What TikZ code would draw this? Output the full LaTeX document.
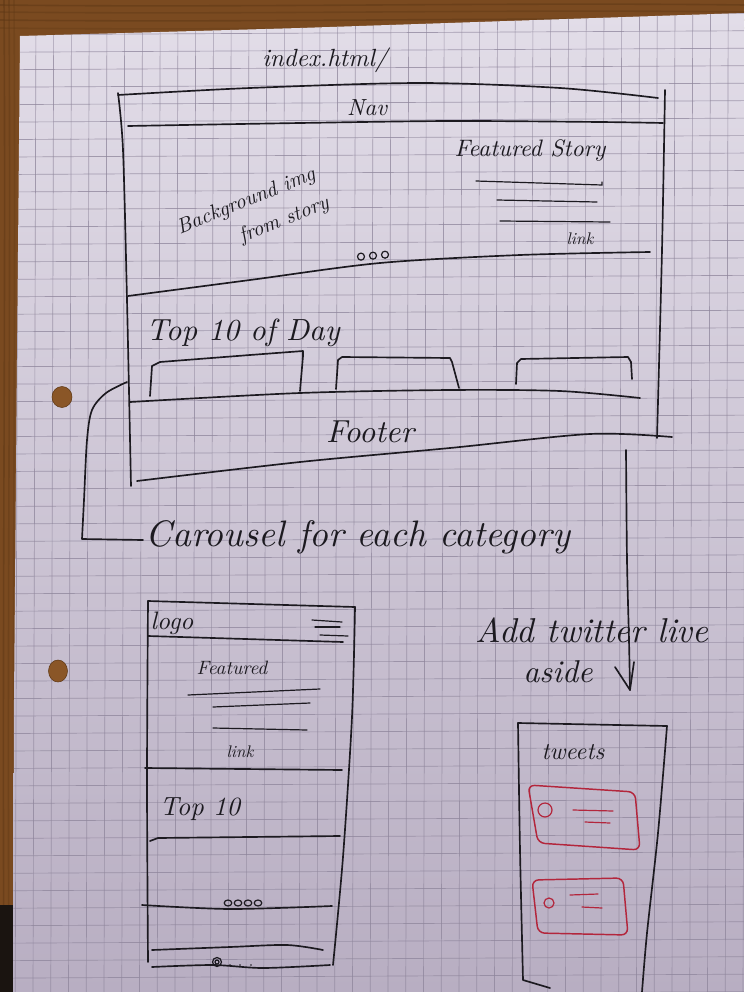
\documentclass[tikz,border=0pt]{standalone}
\usepackage{graphicx}
\definecolor{wood}{HTML}{7A4A20}
\definecolor{woodgrain}{HTML}{5E3815}
\definecolor{woodlight}{HTML}{8A5627}
\definecolor{shadowc}{HTML}{1A1410}
\definecolor{papertop}{HTML}{E2DDE8}
\definecolor{paperbot}{HTML}{B8AEC2}
\definecolor{gridc}{HTML}{8E859B}
\definecolor{inkc}{HTML}{1C1A20}
\definecolor{redc}{HTML}{B3263C}
% handwritten label scaled to a given width (in pt)
\newcommand{\hand}[2]{\resizebox{#1pt}{!}{\itshape #2}}
\begin{document}
\begin{tikzpicture}[x=0.75pt,y=-0.75pt,
  ink/.style={draw=inkc, line width=1.25pt, line cap=round, line join=round},
  thinink/.style={draw=inkc, line width=0.9pt, line cap=round},
  redink/.style={draw=redc, line width=1.1pt, line cap=round, line join=round, rounded corners=5pt},
  redthin/.style={draw=redc, line width=0.9pt, line cap=round},
  hw/.style={inner sep=0pt, text=inkc},
  gridline/.style={draw=gridc, line width=0.5pt, opacity=0.75},
  hole/.style={fill=woodlight, draw=woodgrain, line width=0.4pt}]

\useasboundingbox (0,0) rectangle (744,992);

% table top
\fill[wood] (0,0) rectangle (744,992);
\foreach \y/\o in {5/0.5,12/0.4,20/0.5,28/0.3}
  \draw[woodgrain, line width=1.2pt, opacity=\o] (0,\y) .. controls (250,\y+3) and (500,\y-3) .. (744,\y);
\foreach \x/\o in {4/0.5,9/0.4,14/0.3}
  \draw[woodgrain, line width=1.2pt, opacity=\o] (\x,0) .. controls (\x+2,300) and (\x-2,600) .. (\x,992);
\fill[shadowc] (0,905) rectangle (14,992);

% the sheet of paper
\path[shade, top color=papertop, bottom color=paperbot]
  (20,36) -- (300,28) -- (744,13) -- (744,992) -- (13,992) -- (14,700) -- (17,360) -- cycle;
\begin{scope}
  \clip (20,36) -- (300,28) -- (744,13) -- (744,992) -- (13,992) -- (14,700) -- (17,360) -- cycle;
  \foreach \k in {-1,...,40} \draw[gridline] (36+17.75*\k,0) -- (36+17.75*\k-3,992);
  \foreach \k in {0,...,56} \draw[gridline] (0,17.3+17.47*\k) -- (744,17.3+17.47*\k-4);
\end{scope}

% punched holes
\path[hole] (62,397) ellipse (10 and 10.5);
\path[hole] (58,671) ellipse (9.5 and 11);

% ---------- desktop layout ----------
\node[hw] (title) at (325,60) {\hand{94}{index.html/}};
\draw[ink] plot[smooth] coordinates {(118,95) (250,88) (420,83) (560,88) (658,98)};
\draw[ink] plot[smooth] coordinates {(118,93) (123,150) (127,300) (131,486)};
\draw[ink] plot[smooth] coordinates {(665,90) (662,250) (657,438)};
\node[hw] (nav) at (367,108) {\hand{30}{Nav}};
\draw[ink] plot[smooth] coordinates {(128,126) (300,123) (450,121) (600,122) (663,123)};

% hero
\node[hw] (feat) at (530,151) {\hand{113}{Featured Story}};
\draw[thinink] (476,181) -- (602,185) -- (602,182);
\draw[thinink] (497,200) -- (597,202);
\draw[thinink] (500,221) -- (610,222);
\node[hw] (link) at (580,239) {\hand{20}{link}};
\node[hw, rotate=22] (bg) at (253,216)
  {\hand{112}{\begin{tabular}{@{}l@{}}Background img\\[3pt]\hspace{2.6em}from story\end{tabular}}};
\foreach \x in {361,373,385} \draw[thinink] (\x,256.5-0.08*\x+29) circle (3.5);
\draw[ink] plot[smooth] coordinates {(128,296) (250,280) (380,263) (520,255) (650,252)};

% top 10 row
\node[hw] (top) at (243,333) {\hand{145}{Top 10 of Day}};
\draw[ink] (150,396) -- (152,366) -- (160,362) -- (250,355) -- (303,351) -- (303,356) -- (300,391);
\draw[ink] (336,389) -- (338,360) -- (342,357) -- (450,358) -- (452,362) -- (459,388);
\draw[ink] (516,384) -- (517,363) -- (521,359) -- (628,357) -- (631,362) -- (632,379);
\draw[ink] plot[smooth] coordinates {(130,402) (300,393) (450,390) (560,391) (640,398)};

% footer
\node[hw] (foot) at (370,432) {\hand{66}{Footer}};
\draw[ink] plot[smooth] coordinates {(137,481) (300,462) (450,448) (590,434) (672,437)};

% note on the carousel
\coordinate (carStart) at (127,382);
\coordinate (carEnd) at (143,540);
\draw[ink] plot[smooth] coordinates {(carStart) (106,393) (92,410) (87,440) (84,500) (82,539)} -- (carEnd);
\node[hw] (car) at (358,537) {\hand{318}{Carousel for each category}};

% note on the twitter aside
\coordinate (twStart) at (626,450);
\coordinate (twEnd) at (630,690);
\draw[ink] plot[smooth] coordinates {(twStart) (627,560) (629,640) (twEnd)};
\draw[ink] (615,667) -- (twEnd) -- (634,662);
\node[hw] (addtw) at (592,630) {\hand{175}{Add twitter live}};
\node[hw] (aside) at (558,672) {\hand{52}{aside}};

% ---------- mobile layout ----------
\draw[ink] (148,601) -- (355,607);
\draw[ink] plot[smooth] coordinates {(148,601) (147,780) (148,962)};
\draw[ink] plot[smooth] coordinates {(355,607) (352,717) (343,857) (333,965)};
\draw[ink] plot[smooth] coordinates {(152,967) (213,965) (263,968) (330,965)};
\node[hw] (logo) at (172,623) {\hand{32}{logo}};
\draw[thinink] (312,620) -- (342,622);
\draw[thinink] (315,627) -- (340,627);
\draw[thinink] (320,635) -- (348,636);
\draw[ink] (148,636) -- (343,642);
\node[hw] (featm) at (232,668) {\hand{53}{Featured}};
\draw[thinink] (188,695) -- (320,689);
\draw[thinink] (213,707) -- (310,703);
\draw[thinink] (213,728) -- (307,730);
\node[hw] (linkm) at (240,752) {\hand{20}{link}};
\draw[ink] (145,768) -- (342,770);
\node[hw] (top10m) at (200,809) {\hand{60}{Top 10}};
\draw[ink] (150,841) -- (158,838) -- (340,836);
\foreach \x in {228,238,248,258} \draw[thinink] (\x,903) ellipse (3.8 and 3);
\draw[ink] plot[smooth] coordinates {(142,905) (230,909) (332,906)};
\draw[ink] plot[smooth] coordinates {(152,950) (230,947) (287,945) (323,950)};
\draw[thinink] (217,962) circle (4.5);
\draw[thinink] (217,962) circle (2);
\foreach \x in {230,240,251} \fill[inkc] (\x,965) circle (0.9);

% ---------- twitter aside ----------
\draw[ink] (518,723) -- (667,726);
\draw[ink] plot[smooth] coordinates {(518,723) (520,850) (523,980)} -- (550,988);
\draw[ink] plot[smooth] coordinates {(667,726) (658,833) (647,933) (642,992)};
\node[hw] (tweets) at (573,752) {\hand{47}{tweets}};

\draw[redink] (528,785) -- (635,792) -- (640,850) -- (538,843) -- cycle;
\draw[redthin] (545,810) circle (7);
\draw[redthin] (573,810) -- (613,811);
\draw[redthin] (585,822) -- (610,823);

\draw[redink] (532,880) -- (623,878) -- (628,935) -- (538,933) -- cycle;
\draw[redthin] (549,903) circle (5);
\draw[redthin] (570,895) -- (598,894);
\draw[redthin] (582,907) -- (602,908);

\end{tikzpicture}
\end{document}
